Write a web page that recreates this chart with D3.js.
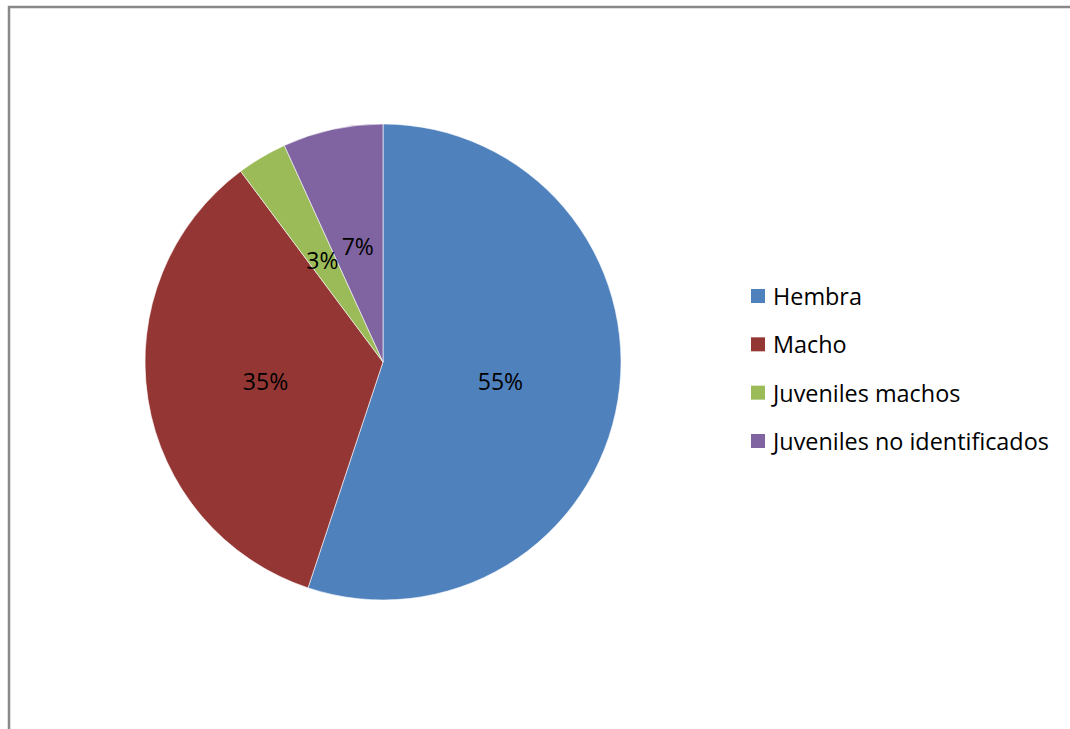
<!DOCTYPE html>
<html>
<head>
<meta charset="utf-8">
<script src="https://cdn.jsdelivr.net/npm/d3@7"></script>
<style>
  html, body { margin: 0; padding: 0; background: #fff; }
  svg { display: block; }
  text { font-family: "Open Sans", Lato, sans-serif; fill: #000; }
</style>
</head>
<body>
<svg id="chart" width="1070" height="729"></svg>
<script>
// Categories and counts per group
const categories = ["Hembra", "Macho", "Juveniles machos", "Juveniles no identificados"];
const counts = [162, 102, 10, 20];
const colors = ["#4F81BD", "#943634", "#9BBB59", "#8064A2"];

const svg = d3.select("#chart");
const W = 1070, H = 729;

// Chart frame
svg.append("rect")
  .attr("x", 9).attr("y", 7)
  .attr("width", W + 20).attr("height", H + 20)
  .attr("fill", "none")
  .attr("stroke", "#898989")
  .attr("stroke-width", 2.5);

const cx = 383, cy = 362, r = 238;
const total = d3.sum(counts);
const data = categories.map((c, i) => ({ name: c, value: counts[i], color: colors[i] }));

const pie = d3.pie().value(d => d.value).sort(null);
const arc = d3.arc().innerRadius(0).outerRadius(r);
const arcs = pie(data);

const g = svg.append("g").attr("transform", `translate(${cx},${cy})`);

g.selectAll("path.slice")
  .data(arcs)
  .join("path")
  .attr("class", "slice")
  .attr("d", arc)
  .attr("fill", d => d.data.color)
  .attr("stroke", "#fff")
  .attr("stroke-width", 0.6);

// Percentage labels at slice centroids
g.selectAll("text.pct")
  .data(arcs)
  .join("text")
  .attr("class", "pct")
  .attr("transform", d => `translate(${arc.centroid(d)})`)
  .attr("text-anchor", "middle")
  .attr("dominant-baseline", "central")
  .attr("font-size", 23)
  .text(d => Math.round(d.data.value / total * 100) + "%");

// Legend
const legend = svg.append("g").attr("transform", "translate(751,296)");
const rowY = d3.scalePoint().domain(categories).range([0, 145]);
const rows = legend.selectAll("g.row")
  .data(data)
  .join("g")
  .attr("class", "row")
  .attr("transform", d => `translate(0,${rowY(d.name)})`);
rows.append("rect")
  .attr("x", 0).attr("y", -7)
  .attr("width", 14).attr("height", 14)
  .attr("fill", d => d.color);
rows.append("text")
  .attr("x", 22).attr("y", 0)
  .attr("dominant-baseline", "central")
  .attr("font-size", 23.4)
  .text(d => d.name);
</script>
</body>
</html>
